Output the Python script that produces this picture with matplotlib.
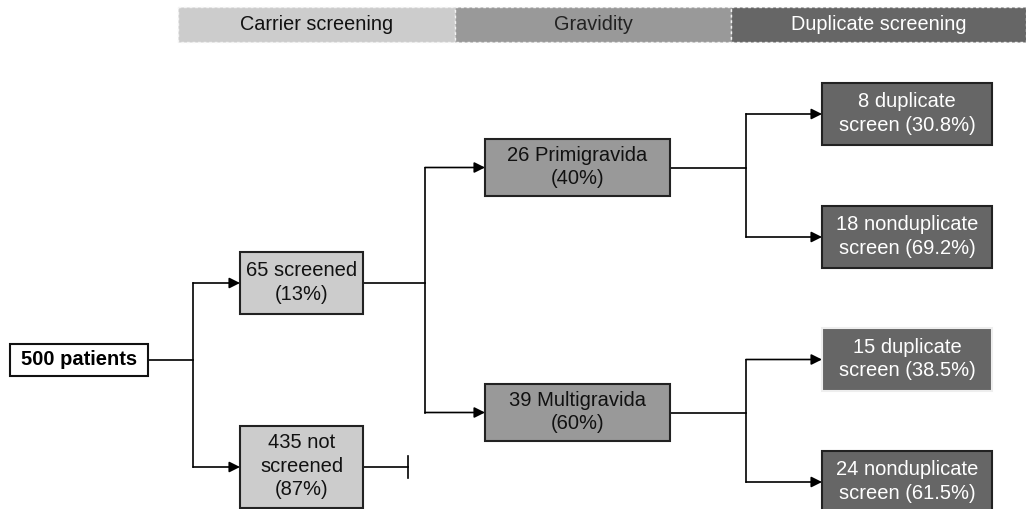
import matplotlib.pyplot as plt
from matplotlib.patches import Rectangle

plt.rcParams['font.family'] = ['Liberation Sans', 'DejaVu Sans']

# stage headers
stages = ["Carrier screening", "Gravidity", "Duplicate screening"]
stage_colors = ["#cccccc", "#999999", "#666666"]
stage_text = ["#111111", "#222222", "white"]

# counts
total = 500
screened = [65, 435]
gravida = [26, 39]
dup_primi = [8, 18]
dup_multi = [15, 24]

labels = {
    "root": f"{total} patients",
    "scr": f"{screened[0]} screened\n({screened[0] / total:.0%})",
    "notscr": f"{screened[1]} not\nscreened\n({screened[1] / total:.0%})",
    "primi": f"{gravida[0]} Primigravida\n({gravida[0] / screened[0]:.0%})",
    "multi": f"{gravida[1]} Multigravida\n({gravida[1] / screened[0]:.0%})",
    "d1": f"{dup_primi[0]} duplicate\nscreen ({dup_primi[0] / gravida[0]:.1%})",
    "n1": f"{dup_primi[1]} nonduplicate\nscreen ({dup_primi[1] / gravida[0]:.1%})",
    "d2": f"{dup_multi[0]} duplicate\nscreen ({dup_multi[0] / gravida[1]:.1%})",
    "n2": f"{dup_multi[1]} nonduplicate\nscreen ({dup_multi[1] / gravida[1]:.1%})",
}

# layout in pixels: x0, y0, x1, y1, fill, text colour, edge
boxes = {
    "root": (10, 345, 148, 377, "white", "black", "#111111"),
    "scr": (240, 253, 363, 315, "#cccccc", "#111111", "#222222"),
    "notscr": (240, 427, 363, 509, "#cccccc", "#111111", "#222222"),
    "primi": (485, 140, 670, 197, "#999999", "#111111", "#222222"),
    "multi": (485, 385, 670, 442, "#999999", "#111111", "#222222"),
    "d1": (822, 84, 992, 146, "#666666", "white", "#222222"),
    "n1": (822, 207, 992, 269, "#666666", "white", "#222222"),
    "d2": (822, 329, 992, 392, "#666666", "white", "#eeeeee"),
    "n2": (822, 452, 992, 514, "#666666", "white", "#222222"),
}

fig = plt.figure(figsize=(10.26, 5.10), dpi=100)
ax = fig.add_axes([0, 0, 1, 1])
ax.set_xlim(0, 1026)
ax.set_ylim(510, 0)
ax.axis('off')

# header bands
band_x = [178, 455, 731, 1026]
for i, name in enumerate(stages):
    ax.add_patch(Rectangle((band_x[i], 8), band_x[i + 1] - band_x[i], 35,
                           facecolor=stage_colors[i], edgecolor="#f4f4f4",
                           linestyle=(0, (2, 2)), lw=1))
    ax.text((band_x[i] + band_x[i + 1]) / 2, 24, name, ha='center', va='center',
            fontsize=14.3, color=stage_text[i])

for key, (x0, y0, x1, y1, fc, tc, ec) in boxes.items():
    ax.add_patch(Rectangle((x0, y0), x1 - x0, y1 - y0, facecolor=fc,
                           edgecolor=ec, lw=1.5, zorder=3))
    ax.text((x0 + x1) / 2, (y0 + y1) / 2 - 1.5, labels[key], ha='center', va='center',
            fontsize=14.5, color=tc, linespacing=1.3, zorder=4,
            fontweight='bold' if key == "root" else 'normal')


def branch(src, dst_a, dst_b, xm):
    sx1 = boxes[src][2]
    sy = (boxes[src][1] + boxes[src][3]) / 2
    ya = (boxes[dst_a][1] + boxes[dst_a][3]) / 2
    yb = (boxes[dst_b][1] + boxes[dst_b][3]) / 2
    if dst_b == "n2":
        yb = 483
    ax.plot([sx1, xm], [sy, sy], color='black', lw=1.2)
    ax.plot([xm, xm], [ya, yb], color='black', lw=1.2)
    for y, d in [(ya, dst_a), (yb, dst_b)]:
        ax.annotate('', xy=(boxes[d][0], y), xytext=(xm, y),
                    arrowprops=dict(arrowstyle='-|>', mutation_scale=16,
                                    color='black', lw=1.2, shrinkA=0, shrinkB=0))


branch("root", "scr", "notscr", 193)
branch("scr", "primi", "multi", 425)
branch("primi", "d1", "n1", 746)
branch("multi", "d2", "n2", 746)

# not screened: terminated
ny = (boxes["notscr"][1] + boxes["notscr"][3]) / 2
ax.plot([363, 408], [ny, ny], color='black', lw=1.2)
ax.plot([408, 408], [ny - 11, ny + 11], color='black', lw=1.2)

fig.savefig("out.png", dpi=100)
